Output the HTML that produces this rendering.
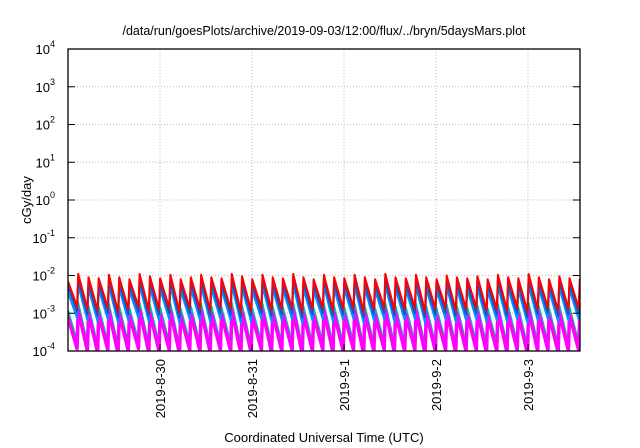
<!DOCTYPE html>
<html><head><meta charset="utf-8">
<style>
html,body{margin:0;padding:0;background:#fff;}
svg{display:block;font-family:"Liberation Sans",sans-serif;}
</style></head><body>
<svg id="chart" width="640" height="448" viewBox="0 0 640 448">
<text x="324" y="35" font-size="12.5" text-anchor="middle">/data/run/goesPlots/archive/2019-09-03/12:00/flux/../bryn/5daysMars.plot</text>
<g id="grid"></g>
<g id="series"></g>
<rect x="68" y="49" width="512" height="302" fill="none" stroke="#000" stroke-width="1.3"/>
<g id="axes"></g>
<text transform="translate(31,200) rotate(-90)" font-size="13" text-anchor="middle">cGy/day</text>
<text x="324" y="442" font-size="13" text-anchor="middle">Coordinated Universal Time (UTC)</text>
</svg>
<script>
const yExps = [-4,-3,-2,-1,0,1,2,3,4];
const xTickLabels = ["2019-8-30","2019-8-31","2019-9-1","2019-9-2","2019-9-3"];
const xTickDays = [1,2,3,4,5];
// tooth peaks (red series, cGy/day), one per ~2.67h starting 8-29 00:00
const peaks = [7e-3,1.1e-2,9e-3,8.5e-3,1.05e-2,9e-3,8e-3,1.1e-2,9.5e-3,8.5e-3,1.05e-2,8e-3,9e-3,1.05e-2,9e-3,8.5e-3,1.1e-2,9.5e-3,8e-3,1.05e-2,9e-3,8.5e-3,1.1e-2,9e-3,8e-3,1.05e-2,9e-3,8.5e-3,1.05e-2,9e-3,8e-3,1.1e-2,9e-3,8.5e-3,1.05e-2,9e-3,8e-3,1e-2,9e-3,8.5e-3,9.5e-3,8e-3,1.05e-2,9e-3,8.5e-3,1.1e-2,9e-3,8e-3,9.5e-3,8.5e-3,8e-3];
const troughs = [1.5e-3,1.3e-3,1.2e-3,1.4e-3,1.1e-3,1.3e-3,1.5e-3,1.2e-3,1.3e-3,1.4e-3,1.1e-3,1.4e-3,1.3e-3,1.2e-3,1.4e-3,1.3e-3,1.1e-3,1.2e-3,1.4e-3,1.2e-3,1.3e-3,1.4e-3,1.1e-3,1.3e-3,1.4e-3,1.2e-3,1.3e-3,1.4e-3,1.1e-3,1.3e-3,1.4e-3,1.2e-3,1.3e-3,1.4e-3,1.1e-3,1.3e-3,1.4e-3,1.2e-3,1.3e-3,1.4e-3,1.2e-3,1.3e-3,1.2e-3,1.4e-3,1.1e-3,1.3e-3,1.4e-3,1.2e-3,1.3e-3,1.4e-3,1.2e-3];
const seriesColors = ["#00a060","#00c0a0","#ff00ff","#0090ff","#2050c0","#ff0000"];
const seriesFactors = [0.14,0.17,0.11,0.5,0.72,1.0];
const troughFactors = [0.7,0.7,0.7,1,1,1];
const seriesNames = ["series-green","series-teal","series-magenta","series-lightblue","series-blue","series-red"];
const toothHours = 2.67;
const totalDays = 512/92;

const X0=68,X1=580,Y0=49,Y1=351;
const xs = d => X0 + d/totalDays*(X1-X0);
const ys = v => Y1 - (Math.log10(v)+4)/8*(Y1-Y0);
const NS="http://www.w3.org/2000/svg";
function mk(tag,attrs,parent){const e=document.createElementNS(NS,tag);for(const k in attrs)e.setAttribute(k,attrs[k]);parent.appendChild(e);return e;}
const grid=document.getElementById('grid'),axes=document.getElementById('axes'),ser=document.getElementById('series');

yExps.forEach(e=>{
  const y=ys(Math.pow(10,e));
  if(e>-4&&e<4){const l=mk('line',{x1:X0,x2:X1,y1:y,y2:y,stroke:'#bbb','stroke-dasharray':'1,2'},grid);
  
  }
  const t1=mk('line',{x1:X0,x2:X0+7,y1:y,y2:y,stroke:'#000'},axes);
  
  
  const t2=mk('line',{x1:X1-7,x2:X1,y1:y,y2:y,stroke:'#000'},axes);
  
  
  const tx=mk('text',{x:55,y:y+5,'font-size':13,'text-anchor':'end'},axes);
  
  
  tx.textContent='10';
  const sp=mk('tspan',{dy:-7,'font-size':9},tx);sp.textContent=String(e);
});
xTickDays.forEach((d,i)=>{
  const x=xs(d);
  const l=mk('line',{x1:x,x2:x,y1:Y0,y2:Y1,stroke:'#bbb','stroke-dasharray':'1,2'},grid);
  
  
  const t=mk('line',{x1:x,x2:x,y1:Y1-7,y2:Y1,stroke:'#000'},axes);
  
  
  const tx=mk('text',{transform:`translate(${x+5},${Y1+8}) rotate(-90)`,'font-size':13,'text-anchor':'end'},axes);
  
  
  tx.textContent=xTickLabels[i];
});

const clip=mk('clipPath',{id:'pc'},mk('defs',{},document.getElementById('chart')));
mk('rect',{x:X0,y:Y0,width:X1-X0,height:Y1-Y0},clip);
ser.setAttribute('clip-path','url(#pc)');
seriesColors.forEach((c,si)=>{
  const f=seriesFactors[si];
  const tf=troughFactors[si];
  let pts=[];
  peaks.forEach((p,i)=>{
    const d0=i*toothHours/24, d1=(i+1)*toothHours/24-0.012;
    pts.push(xs(d0).toFixed(1)+','+ys(p*f).toFixed(1));
    pts.push(xs(d1).toFixed(1)+','+ys(troughs[i]*f*tf).toFixed(1));
  });
  const pl=mk('polyline',{points:pts.join(' '),fill:'none',stroke:c,'stroke-width':si===2?3.5:2,'stroke-linejoin':'round'},ser);
  
  
});
</script>
</body></html>
